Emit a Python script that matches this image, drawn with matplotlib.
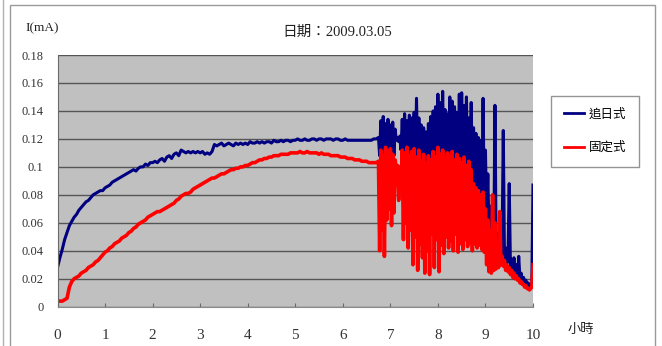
import numpy as np
import matplotlib
matplotlib.use("Agg")
import matplotlib.pyplot as plt
from matplotlib.lines import Line2D
from matplotlib.patches import Rectangle

plt.rcParams['font.family'] = ['Liberation Serif', 'Noto Sans CJK TC', 'DejaVu Sans']

# ---- data -------------------------------------------------------------
title = "日期：2009.03.05"
y_label = "I(mA)"
x_label = "小時"
series_names = ["追日式", "固定式"]

# steady part of the day, sampled every 0.05 h from 0.00 h to 6.70 h
steady_start, steady_step = 0.0, 0.05
tracking_steady = [
    0.028, 0.035, 0.041, 0.048, 0.053, 0.058, 0.061, 0.064, 0.066, 0.069,
    0.071, 0.073, 0.075, 0.076, 0.078, 0.080, 0.081, 0.082, 0.083, 0.083,
    0.085, 0.086, 0.087, 0.089, 0.090, 0.091, 0.092, 0.093, 0.094, 0.095,
    0.096, 0.097, 0.098, 0.097, 0.099, 0.100, 0.100, 0.102, 0.101, 0.103,
    0.103, 0.104, 0.103, 0.105, 0.106, 0.104, 0.107, 0.108, 0.106, 0.109,
    0.110, 0.108, 0.112, 0.111, 0.110, 0.111, 0.110, 0.111, 0.110, 0.111,
    0.110, 0.111, 0.109, 0.110, 0.109, 0.111, 0.116, 0.115, 0.116, 0.117,
    0.115, 0.116, 0.117, 0.116, 0.115, 0.117, 0.116, 0.117, 0.116, 0.117,
    0.116, 0.118, 0.117, 0.117, 0.118, 0.117, 0.118, 0.117, 0.118, 0.118,
    0.117, 0.119, 0.118, 0.118, 0.119, 0.118, 0.119, 0.119, 0.118, 0.119,
    0.119, 0.120, 0.119, 0.119, 0.120, 0.119, 0.119, 0.120, 0.120, 0.119,
    0.120, 0.120, 0.119, 0.120, 0.120, 0.120, 0.119, 0.120, 0.120, 0.119,
    0.119, 0.120, 0.119, 0.119, 0.119, 0.119, 0.119, 0.119, 0.119, 0.119,
    0.119, 0.119, 0.119, 0.120, 0.120,
]
fixed_steady = [
    0.004, 0.004, 0.004, 0.005, 0.006, 0.014, 0.018, 0.020, 0.021, 0.022,
    0.024, 0.025, 0.026, 0.028, 0.029, 0.030, 0.032, 0.033, 0.035, 0.037,
    0.039, 0.040, 0.042, 0.043, 0.045, 0.046, 0.047, 0.049, 0.050, 0.051,
    0.053, 0.054, 0.056, 0.057, 0.059, 0.060, 0.061, 0.062, 0.064, 0.065,
    0.066, 0.067, 0.068, 0.068, 0.069, 0.070, 0.071, 0.072, 0.073, 0.074,
    0.076, 0.077, 0.079, 0.080, 0.081, 0.081, 0.082, 0.084, 0.085, 0.086,
    0.087, 0.088, 0.089, 0.090, 0.091, 0.092, 0.092, 0.093, 0.094, 0.095,
    0.095, 0.096, 0.097, 0.098, 0.098, 0.099, 0.099, 0.100, 0.100, 0.101,
    0.101, 0.102, 0.103, 0.103, 0.104, 0.105, 0.105, 0.106, 0.106, 0.107,
    0.107, 0.108, 0.108, 0.108, 0.109, 0.109, 0.109, 0.109, 0.110, 0.110,
    0.110, 0.110, 0.111, 0.110, 0.110, 0.111, 0.110, 0.110, 0.110, 0.110,
    0.109, 0.110, 0.109, 0.109, 0.109, 0.108, 0.108, 0.108, 0.108, 0.107,
    0.107, 0.107, 0.106, 0.106, 0.106, 0.105, 0.105, 0.105, 0.104, 0.104,
    0.104, 0.103, 0.103, 0.103, 0.103,
]

# unsettled part of the day, sampled every 0.025 h from 6.75 h to 10.00 h
unsettled_start, unsettled_step = 6.75, 0.025
tracking_unsettled = [
    0.121, 0.108, 0.133, 0.112, 0.136, 0.110, 0.131, 0.114, 0.134, 0.109,
    0.130, 0.112, 0.132, 0.108, 0.127, 0.119, 0.121, 0.118, 0.122, 0.112,
    0.134, 0.106, 0.138, 0.104, 0.133, 0.110, 0.137, 0.102, 0.135, 0.108,
    0.139, 0.101, 0.149, 0.100, 0.135, 0.098, 0.130, 0.096, 0.128, 0.095,
    0.125, 0.094, 0.131, 0.097, 0.136, 0.100, 0.140, 0.104, 0.143, 0.099,
    0.152, 0.105, 0.146, 0.098, 0.154, 0.102, 0.141, 0.100, 0.138, 0.096,
    0.150, 0.099, 0.147, 0.095, 0.143, 0.101, 0.139, 0.094, 0.152, 0.098,
    0.153, 0.097, 0.144, 0.093, 0.150, 0.092, 0.135, 0.090, 0.146, 0.088,
    0.128, 0.085, 0.124, 0.082, 0.121, 0.078, 0.119, 0.074, 0.149, 0.070,
    0.112, 0.062, 0.095, 0.052, 0.072, 0.045, 0.060, 0.042, 0.144, 0.040,
    0.052, 0.038, 0.048, 0.035, 0.045, 0.126, 0.034, 0.042, 0.031, 0.038,
    0.088, 0.029, 0.034, 0.027, 0.035, 0.025, 0.030, 0.022, 0.036, 0.020,
    0.024, 0.018, 0.021, 0.017, 0.019, 0.016, 0.017, 0.015, 0.016, 0.015,
    0.087,
]
fixed_unsettled = [
    0.104, 0.040, 0.112, 0.055, 0.108, 0.036, 0.114, 0.062, 0.110, 0.070,
    0.113, 0.058, 0.109, 0.067, 0.105, 0.098, 0.101, 0.076, 0.100, 0.085,
    0.112, 0.048, 0.110, 0.060, 0.114, 0.042, 0.108, 0.055, 0.111, 0.030,
    0.113, 0.050, 0.107, 0.026, 0.112, 0.045, 0.104, 0.035, 0.109, 0.024,
    0.102, 0.040, 0.108, 0.023, 0.105, 0.052, 0.111, 0.028, 0.107, 0.048,
    0.114, 0.025, 0.109, 0.044, 0.112, 0.038, 0.106, 0.050, 0.110, 0.042,
    0.108, 0.047, 0.111, 0.040, 0.105, 0.052, 0.109, 0.039, 0.106, 0.045,
    0.103, 0.041, 0.107, 0.048, 0.101, 0.043, 0.104, 0.046, 0.098, 0.040,
    0.088, 0.045, 0.085, 0.042, 0.083, 0.044, 0.080, 0.041, 0.082, 0.039,
    0.070, 0.030, 0.062, 0.025, 0.055, 0.024, 0.080, 0.026, 0.060, 0.027,
    0.040, 0.028, 0.068, 0.030, 0.036, 0.029, 0.033, 0.026, 0.030, 0.025,
    0.028, 0.023, 0.026, 0.021, 0.024, 0.020, 0.022, 0.019, 0.020, 0.017,
    0.018, 0.016, 0.016, 0.014, 0.015, 0.013, 0.013, 0.012, 0.013, 0.014,
    0.030,
]

x_ticks = list(range(0, 11))
y_ticks = [0, 0.02, 0.04, 0.06, 0.08, 0.10, 0.12, 0.14, 0.16, 0.18]
y_tick_labels = ["0", "0.02", "0.04", "0.06", "0.08", "0.1", "0.12", "0.14", "0.16", "0.18"]

# ---- build the time axis ----------------------------------------------
t_steady = steady_start + steady_step * np.arange(len(tracking_steady))
t_unsettled = unsettled_start + unsettled_step * np.arange(len(tracking_unsettled))
hours = np.concatenate([t_steady, t_unsettled])
tracking = np.concatenate([tracking_steady, tracking_unsettled])
fixed = np.concatenate([fixed_steady, fixed_unsettled])

# ---- figure ------------------------------------------------------------
W, H = 662, 346
fig = plt.figure(figsize=(W / 100, H / 100), dpi=100)
fig.patch.set_facecolor("white")

# chart-area frame
fig.add_artist(Rectangle((10 / W, -0.05), 645 / W, (H - 5) / H + 0.05,
                         transform=fig.transFigure, fill=False,
                         edgecolor="#9a9a9a", linewidth=1.0))
fig.add_artist(Line2D([3 / W, 3 / W], [0, 1], transform=fig.transFigure,
                      color="#b0b0b0", linewidth=1.0))

ax = fig.add_axes([57.5 / W, (H - 306.7) / H, (533 - 57.5) / W, (306.7 - 55) / H])
ax.set_facecolor("#c0c0c0")

ax.plot(hours, tracking, color="#000080", linewidth=2.2, label=series_names[0])
ax.plot(hours, fixed, color="#ff0000", linewidth=2.6, label=series_names[1])

ax.set_xlim(0, 10)
ax.set_ylim(0, 0.18)
ax.set_yticks(y_ticks)
ax.set_yticklabels(y_tick_labels)
ax.set_xticks(x_ticks)
ax.set_xticklabels([str(v) for v in x_ticks])

ax.yaxis.grid(True, color="#555555", linewidth=1.0)
ax.set_axisbelow(True)
for side in ("top", "right"):
    ax.spines[side].set_visible(False)
ax.spines["left"].set_color("#6a6a6a")
ax.spines["bottom"].set_color("#8a8a8a")

ax.tick_params(axis="y", length=0, pad=10, labelsize=9, labelcolor="#333333")
ax.tick_params(axis="x", direction="in", length=3, color="#6a6a6a",
               pad=16, labelsize=11, labelcolor="#333333")

fig.text(337 / W, 1 - 32 / H, title, ha="center", va="center",
         fontsize=10.5, color="#222222")
fig.text(25 / W, 1 - 28 / H, y_label, ha="left", va="center",
         fontsize=9.5, color="#222222")
fig.text(581 / W, 1 - 330 / H, x_label, ha="center", va="center",
         fontsize=9.5, color="#222222")

leg = ax.legend(loc="upper left", bbox_to_anchor=(551 / W, 1 - 96 / H),
                bbox_transform=fig.transFigure, frameon=True, fancybox=False,
                edgecolor="#7a7a7a", fontsize=9, handlelength=1.6,
                handletextpad=0.4, labelspacing=1.7, borderpad=1.0,
                borderaxespad=0)
leg.get_frame().set_linewidth(1.0)
for line in leg.get_lines():
    line.set_linewidth(2.0)

fig.savefig("out.png", dpi=100, facecolor="white")
